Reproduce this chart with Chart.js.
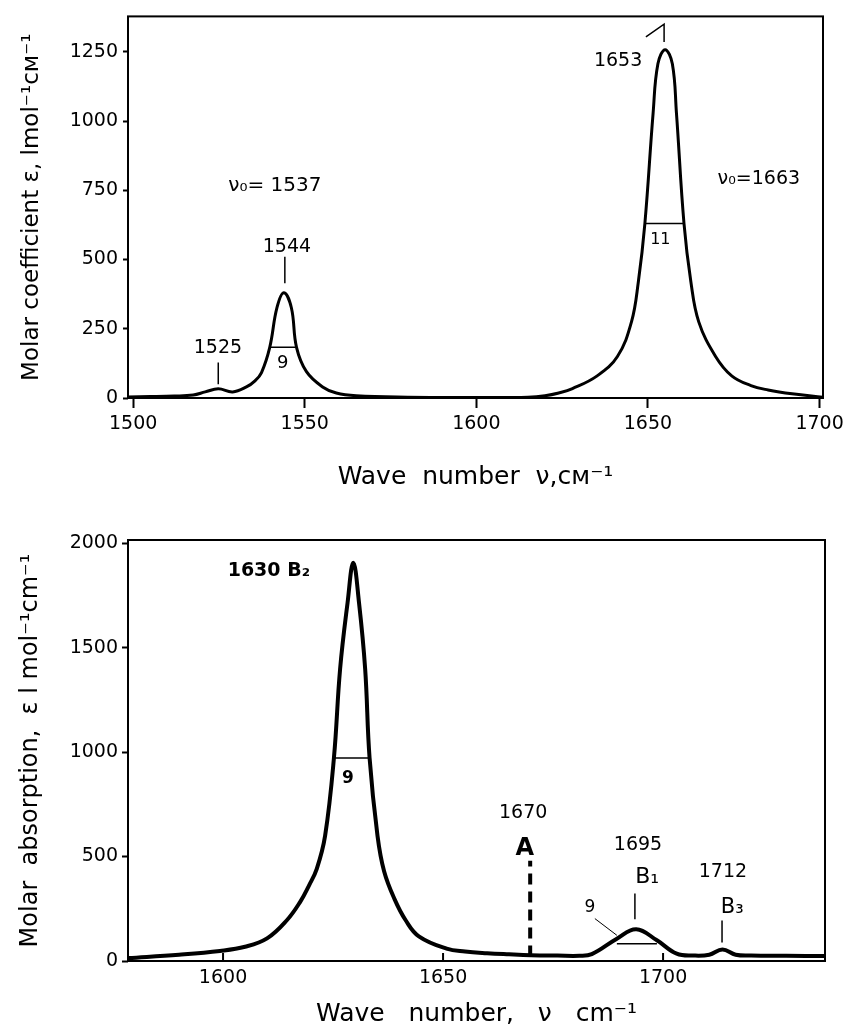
<!DOCTYPE html>
<html>
<head>
<meta charset="utf-8">
<script src="https://cdn.jsdelivr.net/npm/chart.js@4.4.1/dist/chart.umd.min.js"></script>
<style>
  body { margin: 0; background: #fff; }
  #wrap { position: relative; width: 851px; height: 1036px; }
  canvas { position: absolute; left: 0; }
</style>
</head>
<body>
<div id="wrap">
  <canvas id="topChart" width="851" height="515" style="top:0"></canvas>
  <canvas id="bottomChart" width="851" height="521" style="top:515px"></canvas>
</div>
<script>

// ---- top spectrum (molar coefficient) ----
var topWave  = [1498.5, 1505, 1512, 1517.5, 1521, 1524.8, 1529, 1533, 1535.5, 1537.4, 1539.8, 1541.9, 1543.9, 1546.1, 1547.6, 1550.5, 1555.2, 1559.2, 1565, 1580, 1600, 1615, 1620, 1624, 1628, 1635.2, 1641.1, 1645.2, 1647.2, 1649.1, 1651.5, 1652.9, 1655, 1657.1, 1658.3, 1660.5, 1662.5, 1664.8, 1669.7, 1674.4, 1680, 1685, 1692, 1700.9];
var topMolar = [4, 5, 7, 11, 22, 33, 22, 40, 62, 92, 183, 326, 380, 326, 183, 95, 40, 18, 8, 3, 2, 3, 8, 18, 34, 80, 150, 275, 420, 630, 1029, 1207, 1258, 1207, 1029, 630, 420, 275, 150, 80, 45, 29, 15, 3];
var topWaveTicks  = [1500, 1550, 1600, 1650, 1700];
var topMolarTicks = [0, 250, 500, 750, 1000, 1250];

// half-width bars and leader lines (wave number, value)
var topHalf1544 = [[1539.8, 183], [1547.6, 183]];
var topHalf1653 = [[1649.1, 630], [1660.5, 630]];
var topLead1525 = [[1524.8, 50], [1524.8, 128]];
var topLead1544 = [[1544.2, 414], [1544.2, 510]];
var topLead1653 = [[1649.4, 1304], [1654.7, 1350], [1654.7, 1286]];

var topNotes = [
  { text: 'ν₀= 1537', x: 1541.3, y: 768, size: 20 },
  { text: '1544', x: 1544.8, y: 546, size: 19 },
  { text: '1525', x: 1524.7, y: 182, size: 19 },
  { text: '9', x: 1543.6, y: 125, size: 18 },
  { text: '1653', x: 1641.3, y: 1218, size: 19 },
  { text: '11', x: 1653.6, y: 570, size: 16 },
  { text: 'ν₀=1663', x: 1682.3, y: 789, size: 19 }
];

// ---- bottom spectrum (molar absorption) ----
var botWave  = [1578.4, 1590, 1599.3, 1605, 1610, 1614.5, 1617.5, 1619.5, 1621.3, 1623.2, 1625.2, 1626.6, 1628.3, 1629.6, 1630.9, 1632.3, 1633.3, 1635.1, 1636.6, 1639, 1641.5, 1644.5, 1650.8, 1655, 1660, 1665, 1670, 1676, 1681, 1683.8, 1689.5, 1693.9, 1698.6, 1703.1, 1707, 1710.5, 1713.5, 1716.5, 1720, 1728, 1736.8];
var botMolar = [14, 30, 48, 68, 108, 195, 282, 360, 441, 600, 972, 1397, 1715, 1906, 1715, 1397, 972, 600, 430, 295, 195, 118, 59, 45, 37, 32, 28, 26, 25, 33, 107, 152, 99, 35, 26, 30, 55, 30, 26, 25, 24];
var botWaveTicks  = [1600, 1650, 1700];
var botMolarTicks = [0, 500, 1000, 1500, 2000];

var botHalf1630 = [[1625.2, 972], [1633.3, 972]];
var botHalf1695 = [[1689.5, 83], [1698.6, 83]];
var botLineA    = [[1669.8, 22], [1669.8, 480]];
var botLeadB1   = [[1693.6, 200], [1693.6, 323]];
var botLeadB3   = [[1713.4, 89], [1713.4, 194]];
var botLead9    = [[1684.5, 203], [1689.5, 123]];

var botNotes = [
  { text: '1630 B₂', x: 1610.4, y: 1867, size: 19, bold: true },
  { text: '9', x: 1628.4, y: 872, size: 17, bold: true },
  { text: '1670', x: 1668.2, y: 706, size: 19 },
  { text: 'A', x: 1668.6, y: 539, size: 24, bold: true },
  { text: '1695', x: 1694.3, y: 553, size: 19 },
  { text: 'B₁', x: 1696.4, y: 400, size: 22 },
  { text: '1712', x: 1713.6, y: 424, size: 19 },
  { text: 'B₃', x: 1715.7, y: 257, size: 21 },
  { text: '9', x: 1683.4, y: 257, size: 17 }
];

var FONT = '"DejaVu Sans", sans-serif';

function pairs(list) {
  return list.map(function (p) { return { x: p[0], y: p[1] }; });
}

function curve(xs, ys) {
  var out = [];
  for (var i = 0; i < xs.length; i++) {
    out.push({ x: xs[i], y: ys[i] });
  }
  return out;
}

function thin(list, width, dash) {
  return {
    data: pairs(list),
    borderColor: '#000',
    borderWidth: width || 1.5,
    borderDash: dash || [],
    pointRadius: 0,
    tension: 0,
    fill: false
  };
}

function fixTicks(values) {
  return function (scale) {
    scale.ticks = values.map(function (v) { return { value: v }; });
  };
}

// box around the plot area
var frame = {
  id: 'frame',
  afterDatasetsDraw: function (chart) {
    var a = chart.chartArea, ctx = chart.ctx;
    ctx.save();
    ctx.strokeStyle = '#000';
    ctx.lineWidth = 2;
    ctx.strokeRect(a.left, a.top, a.right - a.left, a.bottom - a.top);
    ctx.restore();
  }
};

// text labels placed in data coordinates
var notes = {
  id: 'notes',
  afterDatasetsDraw: function (chart, args, opts) {
    var ctx = chart.ctx, xs = chart.scales.x, ys = chart.scales.y;
    var items = opts.items || [];
    ctx.save();
    ctx.fillStyle = '#000';
    ctx.textAlign = 'center';
    ctx.textBaseline = 'middle';
    for (var i = 0; i < items.length; i++) {
      var n = items[i];
      ctx.font = (n.bold ? 'bold ' : '') + n.size + 'px ' + FONT;
      ctx.fillText(n.text, xs.getPixelForValue(n.x), ys.getPixelForValue(n.y));
    }
    ctx.restore();
  }
};

// short tick marks pointing into the plot, for the lower x axis
var innerTicks = {
  id: 'innerTicks',
  afterDatasetsDraw: function (chart, args, opts) {
    if (!opts.length) return;
    var xs = chart.scales.x, ctx = chart.ctx;
    ctx.save();
    ctx.strokeStyle = '#000';
    ctx.lineWidth = 2;
    xs.ticks.forEach(function (t) {
      var px = xs.getPixelForValue(t.value);
      ctx.beginPath();
      ctx.moveTo(px, xs.top);
      ctx.lineTo(px, xs.top - opts.length);
      ctx.stroke();
    });
    ctx.restore();
  }
};

function label(v) { return String(v); }

var topCurve = {
  data: curve(topWave, topMolar),
  borderColor: '#000',
  borderWidth: 3,
  pointRadius: 0,
  tension: 0.4,
  fill: false
};

new Chart(document.getElementById('topChart'), {
  type: 'line',
  data: {
    datasets: [
      topCurve,
      thin(topHalf1544), thin(topHalf1653),
      thin(topLead1525), thin(topLead1544), thin(topLead1653)
    ]
  },
  plugins: [frame, notes],
  options: {
    responsive: false,
    animation: false,
    layout: { padding: { top: 12, right: 28, left: 0, bottom: 0 } },
    plugins: {
      legend: { display: false },
      tooltip: { enabled: false },
      notes: { items: topNotes }
    },
    scales: {
      x: {
        type: 'linear',
        min: 1498.5,
        max: 1701,
        afterBuildTicks: fixTicks(topWaveTicks),
        afterFit: function (s) { s.height = 117; },
        border: { display: false },
        grid: { drawOnChartArea: false, tickLength: 10, tickWidth: 2, tickColor: '#000' },
        ticks: {
          color: '#000', padding: 5, maxRotation: 0,
          font: { size: 19, family: FONT },
          callback: label
        },
        title: {
          display: true,
          text: 'Wave  number  ν,см⁻¹',
          color: '#000',
          font: { size: 25, family: FONT },
          padding: { top: 0, bottom: 23 }
        }
      },
      y: {
        min: 0,
        max: 1378,
        afterBuildTicks: fixTicks(topMolarTicks),
        afterFit: function (s) { s.width = 128; },
        border: { display: false },
        grid: { drawOnChartArea: false, tickLength: 5, tickWidth: 2, tickColor: '#000' },
        ticks: {
          color: '#000', padding: 5,
          font: { size: 19, family: FONT },
          callback: label
        },
        title: {
          display: true,
          text: 'Molar coefficient ε, lmol⁻¹cм⁻¹',
          color: '#000',
          font: { size: 23, family: FONT },
          padding: { top: 18, bottom: 0 }
        }
      }
    }
  }
});

var botCurve = {
  data: curve(botWave, botMolar),
  borderColor: '#000',
  borderWidth: 4,
  pointRadius: 0,
  tension: 0.4,
  fill: false
};

new Chart(document.getElementById('bottomChart'), {
  type: 'line',
  data: {
    datasets: [
      botCurve,
      thin(botHalf1630), thin(botHalf1695),
      thin(botLineA, 4, [11, 7]),
      thin(botLeadB1), thin(botLeadB3), thin(botLead9, 1)
    ]
  },
  plugins: [frame, notes, innerTicks],
  options: {
    responsive: false,
    animation: false,
    layout: { padding: { top: 25, right: 26, left: 0, bottom: 0 } },
    plugins: {
      legend: { display: false },
      tooltip: { enabled: false },
      notes: { items: botNotes },
      innerTicks: { length: 8 }
    },
    scales: {
      x: {
        type: 'linear',
        min: 1578.4,
        max: 1736.8,
        afterBuildTicks: fixTicks(botWaveTicks),
        afterFit: function (s) { s.height = 75; },
        border: { display: false },
        grid: { drawOnChartArea: false, drawTicks: false },
        ticks: {
          color: '#000', padding: 6, maxRotation: 0,
          font: { size: 19, family: FONT },
          callback: label
        },
        title: {
          display: true,
          text: 'Wave   number,   ν   cm⁻¹',
          color: '#000',
          font: { size: 25, family: FONT },
          padding: { top: 0, bottom: 7 }
        }
      },
      y: {
        min: 0,
        max: 2015,
        afterBuildTicks: fixTicks(botMolarTicks),
        afterFit: function (s) { s.width = 128; },
        border: { display: false },
        grid: { drawOnChartArea: false, tickLength: 6, tickWidth: 2, tickColor: '#000' },
        ticks: {
          color: '#000', padding: 4,
          font: { size: 19, family: FONT },
          callback: label
        },
        title: {
          display: true,
          text: 'Molar  absorption,  ε l mol⁻¹cm⁻¹',
          color: '#000',
          font: { size: 24, family: FONT },
          padding: { top: 16, bottom: 0 }
        }
      }
    }
  }
});
</script>
</body>
</html>
